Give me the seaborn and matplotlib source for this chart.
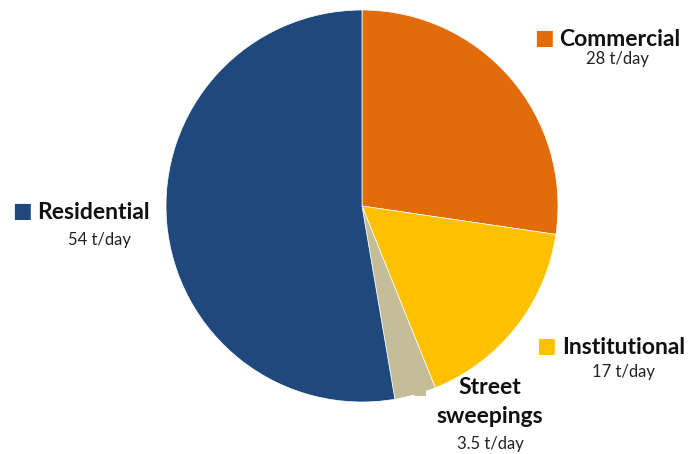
import matplotlib
matplotlib.use("Agg")
import matplotlib.pyplot as plt
import seaborn as sns

# waste sources, clockwise from 12 o'clock
sources = ["Commercial", "Institutional", "Street\nsweepings", "Residential"]
tonnes_per_day = [28, 17, 3.5, 54]
amount_labels = ["28 t/day", "17 t/day", "3.5 t/day", "54 t/day"]
colors = ["#E36C0A", "#FFC000", "#C4BD97", "#1F497D"]

sns.set_theme(style="white")
plt.rcParams["font.family"] = ["Lato", "DejaVu Sans"]

W, H = 694, 454
fig = plt.figure(figsize=(W / 100, H / 100), dpi=100)

# pie centre and radius in pixels
cx, cy, r = 362, 206, 196
ax = fig.add_axes([(cx - r) / W, (H - cy - r) / H, 2 * r / W, 2 * r / H])
ax.pie(tonnes_per_day, colors=sns.color_palette(colors), startangle=90,
       counterclock=False, radius=1.0,
       wedgeprops=dict(linewidth=0.5, edgecolor="white"))
ax.set_xlim(-1, 1)
ax.set_ylim(-1, 1)
ax.set_aspect("equal")
ax.axis("off")


def px(x, y):
    return x / W, 1 - y / H


def label(name, amount, color, sq, name_xy, amount_xy):
    if sq is not None:
        fig.text(*px(*sq), "\u25A0", color=color, fontsize=15,
                 ha="center", va="center", family="DejaVu Sans")
    fig.text(*px(*name_xy), name, fontsize=16.5, fontweight="bold",
             ha="left" if sq is not None else "center", va="center",
             color="#111111", linespacing=1.45)
    fig.text(*px(*amount_xy), amount, fontsize=12, ha="center",
             va="center", color="#222222")


label(sources[0], amount_labels[0], colors[0], (544, 38), (559, 40), (617, 59))
label(sources[1], amount_labels[1], colors[1], (546, 346), (562, 347), (624, 372))
label(sources[3], amount_labels[3], colors[3], (22, 211), (37, 212), (99, 240))
# small marker for street sweepings sits just under the slice
fig.text(*px(420, 390), "\u25A0", color=colors[2], fontsize=11,
         ha="center", va="center", family="DejaVu Sans", zorder=0)
label(sources[2], amount_labels[2], colors[2], None, (490, 402), (490, 444))

fig.savefig("out.png", dpi=100)
